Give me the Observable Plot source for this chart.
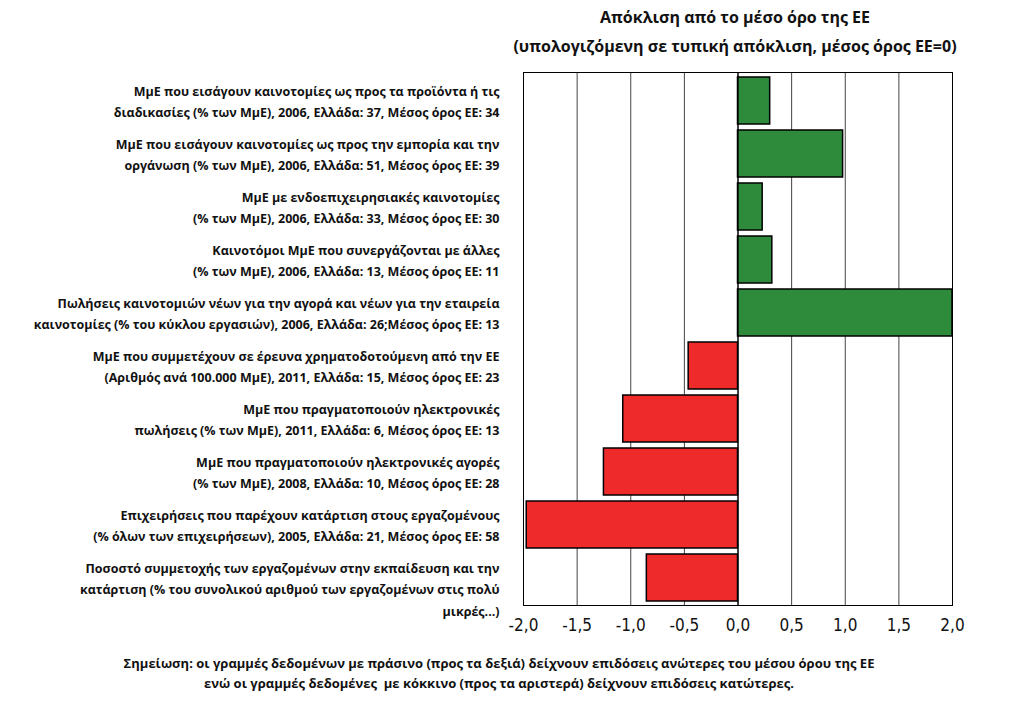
<!DOCTYPE html>
<html>
<head>
<meta charset="utf-8">
<script src="https://cdn.jsdelivr.net/npm/d3@7"></script>
<script src="https://cdn.jsdelivr.net/npm/@observablehq/plot@0.6"></script>
<style>
  body { margin: 0; background: #fff; }
  #wrap { position: relative; width: 1023px; height: 701px; font-family: "Open Sans", "Noto Sans", sans-serif; }
  .title { position: absolute; left: 500px; width: 470px; text-align: center; font-weight: 700; font-size: 16px; color: #111; white-space: nowrap; }
  .note { position: absolute; left: 0; width: 998px; text-align: center; font-weight: 700; font-size: 13px; color: #111; white-space: nowrap; }
  #chart { position: absolute; left: 0; top: 62px; }
</style>
</head>
<body>
<div id="wrap">
  <div class="title" style="top:6px">Απόκλιση από το μέσο όρο της ΕΕ</div>
  <div class="title" style="top:35px">(υπολογιζόμενη σε τυπική απόκλιση, μέσος όρος ΕΕ=0)</div>
  <div id="chart"></div>
  <div class="note" style="top:654px">Σημείωση: οι γραμμές δεδομένων με πράσινο (προς τα δεξιά) δείχνουν επιδόσεις ανώτερες του μέσου όρου της ΕΕ</div>
  <div class="note" style="top:674px">ενώ οι γραμμές δεδομένες&nbsp; με κόκκινο (προς τα αριστερά) δείχνουν επιδόσεις κατώτερες.</div>
</div>
<script>
const labels = [
  "ΜμΕ που εισάγουν καινοτομίες ως προς τα προϊόντα ή τις\nδιαδικασίες (% των ΜμΕ), 2006, Ελλάδα: 37, Μέσος όρος ΕΕ: 34",
  "ΜμΕ που εισάγουν καινοτομίες ως προς την εμπορία και την\nοργάνωση (% των ΜμΕ), 2006, Ελλάδα: 51, Μέσος όρος ΕΕ: 39",
  "ΜμΕ με ενδοεπιχειρησιακές καινοτομίες\n(% των ΜμΕ), 2006, Ελλάδα: 33, Μέσος όρος ΕΕ: 30",
  "Καινοτόμοι ΜμΕ που συνεργάζονται με άλλες\n(% των ΜμΕ), 2006, Ελλάδα: 13, Μέσος όρος ΕΕ: 11",
  "Πωλήσεις καινοτομιών νέων για την αγορά και νέων για την εταιρεία\nκαινοτομίες (% του κύκλου εργασιών), 2006, Ελλάδα: 26;Μέσος όρος ΕΕ: 13",
  "ΜμΕ που συμμετέχουν σε έρευνα χρηματοδοτούμενη από την ΕΕ\n(Αριθμός ανά 100.000 ΜμΕ), 2011, Ελλάδα: 15, Μέσος όρος ΕΕ: 23",
  "ΜμΕ που πραγματοποιούν ηλεκτρονικές\nπωλήσεις (% των ΜμΕ), 2011, Ελλάδα: 6, Μέσος όρος ΕΕ: 13",
  "ΜμΕ που πραγματοποιούν ηλεκτρονικές αγορές\n(% των ΜμΕ), 2008, Ελλάδα: 10, Μέσος όρος ΕΕ: 28",
  "Επιχειρήσεις που παρέχουν κατάρτιση στους εργαζομένους\n(% όλων των επιχειρήσεων), 2005, Ελλάδα: 21, Μέσος όρος ΕΕ: 58",
  "Ποσοστό συμμετοχής των εργαζομένων στην εκπαίδευση και την\nκατάρτιση (% του συνολικού αριθμού των εργαζομένων στις πολύ\nμικρές...)"
];
const values = [0.30, 0.98, 0.23, 0.32, 2.0, -0.46, -1.07, -1.25, -1.97, -0.85];
const xTicks = [-2, -1.5, -1, -0.5, 0, 0.5, 1, 1.5, 2];

const data = labels.map((label, i) => ({label, value: values[i]}));
const fmt = d => (d < 0 ? "-" : "") + Math.abs(d).toFixed(1).replace(".", ",");

const chart = Plot.plot({
  width: 1023,
  height: 590,
  marginTop: 10,
  marginBottom: 47,
  marginLeft: 523,
  marginRight: 71,
  style: {fontFamily: "Open Sans, Noto Sans, sans-serif", background: "white", color: "#111"},
  x: {domain: [-2, 2], ticks: xTicks, tickFormat: fmt, tickSize: 0, tickPadding: 14, label: null},
  y: {domain: labels, paddingInner: 0.12, paddingOuter: 0.06, axis: null},
  marks: [
    Plot.ruleX(xTicks, {stroke: "#444", strokeWidth: 1}),
    Plot.barX(data, {
      x: "value", y: "label",
      fill: d => d.value > 0 ? "#2e8b3c" : "#ee2a2a",
      stroke: "#000", strokeWidth: 1.5
    }),
    Plot.ruleX([0], {stroke: "#000", strokeWidth: 1.2}),
    Plot.frame({stroke: "#000", strokeWidth: 1}),
    Plot.axisX({ticks: xTicks, tickFormat: fmt, tickSize: 0, tickPadding: 13, label: null, fontSize: 17,
      fontFamily: "Liberation Sans Narrow, DejaVu Sans Condensed, Roboto Condensed, Liberation Sans, sans-serif", fill: "#111"}),
    Plot.text(data, {
      y: "label", text: "label", frameAnchor: "left", textAnchor: "end", lineAnchor: "top",
      dx: -24, dy: -21, lineHeight: 1.75, fontSize: 12.5, fontWeight: 700, fill: "#111"
    })
  ]
});
document.getElementById("chart").appendChild(chart);
</script>
</body>
</html>
